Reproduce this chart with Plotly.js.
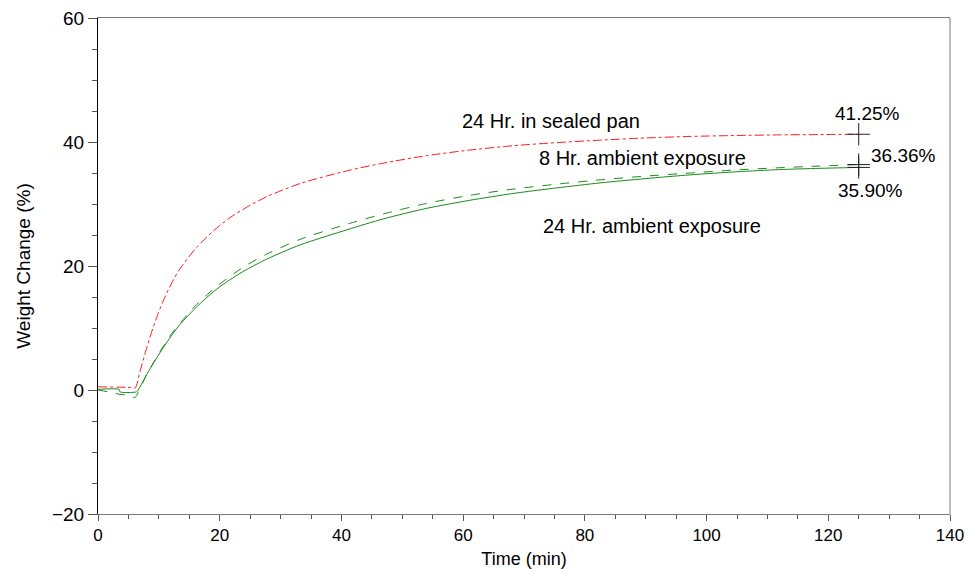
<!DOCTYPE html>
<html>
<head>
<meta charset="utf-8">
<script src="https://cdn.plot.ly/plotly-3.0.1.min.js"></script>
<style>html,body{margin:0;padding:0;background:#fff;}#chart{width:969px;height:569px;}</style>
</head>
<body>
<div id="chart"></div>
<script>
// 24 Hr. in sealed pan (red, dash-dot)
const sealedTime = [0, 5.5, 6.1, 6.9, 7.7, 8.8, 9.9, 11.0, 12.4, 13.5, 16.2, 18.9, 21.7, 25, 28, 33.2, 41.1, 46.9, 54, 61.1, 68.2, 75.4, 82.5, 90, 97.3, 105, 112, 118.5, 125];
const sealedWeight = [0.5, 0.4, 0.3, 3.0, 5.8, 9.3, 12.4, 15.0, 17.8, 19.6, 23.0, 25.6, 27.8, 29.8, 31.3, 33.3, 35.4, 36.6, 37.8, 38.7, 39.4, 39.9, 40.3, 40.65, 40.9, 41.05, 41.15, 41.2, 41.25];

// 8 Hr. ambient exposure (green, dashed)
const amb8Time = [0, 1.7, 3.6, 4.7, 6.1, 6.6, 8.0, 9.4, 10.7, 12.1, 13.5, 16.2, 18.9, 21.1, 24, 27.7, 33.2, 41.1, 46.9, 54, 61.1, 68.2, 75.4, 82.5, 90, 97.3, 105, 112, 118.5, 125];
const amb8Weight = [0, -0.3, -0.7, -0.8, -1.2, -0.4, 2.5, 4.9, 7.0, 9.1, 10.8, 13.8, 16.2, 17.9, 19.9, 21.9, 24.3, 26.8, 28.4, 30.1, 31.4, 32.4, 33.2, 33.9, 34.5, 35.0, 35.5, 35.85, 36.12, 36.36];

// 24 Hr. ambient exposure (green, solid)
const amb24Time = [0, 3.5, 3.6, 6.3, 6.6, 8.0, 9.4, 10.7, 12.1, 13.5, 16.2, 18.9, 21.1, 24, 27.7, 33.2, 41.1, 46.9, 54, 61.1, 68.2, 75.4, 82.5, 90, 97.3, 105, 112, 118.5, 125];
const amb24Weight = [0.1, 0.1, -0.3, -0.3, 0, 2.5, 4.8, 6.8, 8.8, 10.6, 13.4, 15.8, 17.4, 19.2, 21.1, 23.4, 25.9, 27.6, 29.3, 30.6, 31.7, 32.6, 33.4, 34.1, 34.7, 35.2, 35.55, 35.75, 35.9];

// End-point markers and labels
const endTime = [125, 125, 125];
const endWeight = [41.25, 36.36, 35.90];
const endLabels = ["41.25%", "36.36%", "35.90%"];

const curveLabels = ["24 Hr. in sealed pan", "8 Hr. ambient exposure", "24 Hr. ambient exposure"];
const curveLabelX = [74.5, 89.5, 91];
const curveLabelY = [43.4, 37.4, 26.4];

const FONT = "Liberation Sans, Arial, sans-serif";

const traces = [
  {x: sealedTime, y: sealedWeight, mode: 'lines', line: {color: '#ff1a1a', width: 1, dash: 'dashdot', shape: 'spline', smoothing: 0.7}},
  {x: amb8Time, y: amb8Weight, mode: 'lines', line: {color: '#1a8a1a', width: 1, dash: 'dash', shape: 'spline', smoothing: 0.7}},
  {x: amb24Time, y: amb24Weight, mode: 'lines', line: {color: '#1a8a1a', width: 1, shape: 'spline', smoothing: 0.7}},
  {x: endTime, y: endWeight, mode: 'markers', marker: {symbol: 'cross-thin', size: 16, line: {color: '#222', width: 1}}}
];

const annotations = [];
curveLabels.forEach((t, i) => annotations.push({x: curveLabelX[i], y: curveLabelY[i], text: t, showarrow: false, font: {family: FONT, size: 20, color: '#000'}}));
const endOffX = [1.5, 7.4, 2];
const endOffY = [3.3, 1.4, -3.8];
endLabels.forEach((t, i) => annotations.push({x: endTime[i] + endOffX[i], y: endWeight[i] + endOffY[i], text: t, showarrow: false, font: {family: FONT, size: 19, color: '#000'}}));

const layout = {
  width: 969, height: 569,
  margin: {l: 98, r: 19, t: 18, b: 55},
  paper_bgcolor: '#fff', plot_bgcolor: '#fff',
  showlegend: false,
  font: {family: FONT, size: 18, color: '#000'},
  xaxis: {
    range: [0, 140], dtick: 20, tick0: 0,
    showgrid: false, zeroline: false,
    showline: true, linecolor: '#7a7a7a', linewidth: 1, mirror: true,
    ticks: 'outside', ticklen: 6, tickcolor: '#555',
    minor: {dtick: 5, ticks: 'outside', ticklen: 4, tickcolor: '#555'},
    tickfont: {family: FONT, size: 17},
    title: {text: 'Time (min)', font: {family: FONT, size: 18}, standoff: 8}
  },
  yaxis: {
    range: [-20, 60], dtick: 20, tick0: 0,
    showgrid: false, zeroline: false,
    showline: true, linecolor: '#000', linewidth: 1, mirror: false,
    ticks: 'outside', ticklen: 9, tickcolor: '#555',
    minor: {dtick: 5, ticks: 'outside', ticklen: 5, tickcolor: '#555'},
    tickfont: {family: FONT, size: 19},
    title: {text: 'Weight Change (%)', font: {family: FONT, size: 19}, standoff: 16}
  },
  shapes: [
    {type: 'line', xref: 'paper', yref: 'paper', x0: 1, x1: 1, y0: 0, y1: 1, line: {color: '#7a7a7a', width: 1}}
  ],
  annotations: annotations
};

Plotly.newPlot('chart', traces, layout, {staticPlot: true, displayModeBar: false});
</script>
</body>
</html>
